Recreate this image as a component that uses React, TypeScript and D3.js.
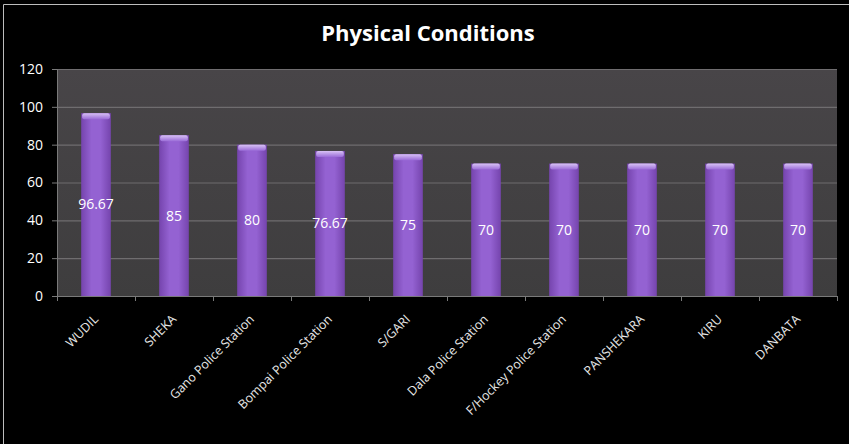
import { useEffect, useRef } from 'react';
import * as d3 from 'd3';

const stations = [
  'WUDIL',
  'SHEKA',
  'Gano Police Station',
  'Bompai Police Station',
  'S/GARI',
  'Dala Police Station',
  'F/Hockey Police Station',
  'PANSHEKARA',
  'KIRU',
  'DANBATA',
];
const scores = [96.67, 85, 80, 76.67, 75, 70, 70, 70, 70, 70];
const yTicks = [0, 20, 40, 60, 80, 100, 120];

const App = () => {
  const svgRef = useRef<SVGSVGElement>(null);

  useEffect(() => {
    document.body.style.margin = '0';
    if (!svgRef.current) {
      return;
    }

    const width = 849;
    const height = 444;
    const margin = { top: 69, right: 12, bottom: 148, left: 57 };
    const font = 'Open Sans, Lato, sans-serif';

    const svg = d3.select(svgRef.current);
    svg.selectAll('*').remove();
    svg.attr('width', width).attr('height', height);

    const defs = svg.append('defs');
    const barGrad = defs
      .append('linearGradient')
      .attr('id', 'barGrad')
      .attr('x1', '0%')
      .attr('x2', '100%');
    barGrad.append('stop').attr('offset', '0%').attr('stop-color', '#7544ad');
    barGrad.append('stop').attr('offset', '35%').attr('stop-color', '#9462d2');
    barGrad.append('stop').attr('offset', '65%').attr('stop-color', '#9462d2');
    barGrad.append('stop').attr('offset', '100%').attr('stop-color', '#7544ad');

    const capGrad = defs
      .append('linearGradient')
      .attr('id', 'capGrad')
      .attr('x1', '0%')
      .attr('x2', '0%')
      .attr('y1', '0%')
      .attr('y2', '100%');
    capGrad.append('stop').attr('offset', '0%').attr('stop-color', '#d8c2f5');
    capGrad.append('stop').attr('offset', '100%').attr('stop-color', '#9b6dd8');

    const plotGrad = defs
      .append('linearGradient')
      .attr('id', 'plotGrad')
      .attr('x1', '0%')
      .attr('x2', '0%')
      .attr('y1', '0%')
      .attr('y2', '100%');
    plotGrad.append('stop').attr('offset', '0%').attr('stop-color', '#484548');
    plotGrad.append('stop').attr('offset', '100%').attr('stop-color', '#3e3d3e');

    // background + frame
    svg.append('rect').attr('width', width).attr('height', height).attr('fill', '#000');
    svg
      .append('path')
      .attr('d', `M3.5,${height} V4.5 H${width}`)
      .attr('stroke', '#bdbdbd')
      .attr('fill', 'none');

    svg
      .append('text')
      .attr('x', 428)
      .attr('y', 41)
      .attr('text-anchor', 'middle')
      .attr('fill', '#fff')
      .attr('font-family', font)
      .attr('font-weight', 'bold')
      .attr('font-size', 22)
      .text('Physical Conditions');

    const x = d3
      .scaleBand<string>()
      .domain(stations)
      .range([margin.left, width - margin.right])
      .paddingInner(0.62)
      .paddingOuter(0.31);

    const y = d3
      .scaleLinear()
      .domain([0, 120])
      .range([height - margin.bottom, margin.top]);

    svg
      .append('rect')
      .attr('x', margin.left)
      .attr('y', y(120))
      .attr('width', width - margin.right - margin.left)
      .attr('height', y(0) - y(120))
      .attr('fill', 'url(#plotGrad)');

    svg
      .append('g')
      .selectAll('line')
      .data(yTicks.filter((t) => t > 0))
      .join('line')
      .attr('x1', margin.left)
      .attr('x2', width - margin.right)
      .attr('y1', (d) => y(d) + 0.5)
      .attr('y2', (d) => y(d) + 0.5)
      .attr('stroke', '#6f6d6f')
      .attr('stroke-width', 1.2);

    const yAxis = svg
      .append('g')
      .attr('transform', `translate(${margin.left},0)`)
      .call(d3.axisLeft(y).tickValues(yTicks).tickSize(5).tickPadding(9));
    yAxis.select('.domain').attr('stroke', '#7a7a7a');
    yAxis.selectAll('line').attr('stroke', '#7a7a7a');
    yAxis
      .selectAll('text')
      .attr('fill', '#fff')
      .attr('font-family', font)
      .attr('font-size', 14);

    const bars = svg
      .append('g')
      .selectAll('g')
      .data(stations)
      .join('g');

    bars
      .append('rect')
      .attr('x', (d) => x(d)!)
      .attr('y', (_d, i) => y(scores[i]))
      .attr('width', x.bandwidth())
      .attr('height', (_d, i) => y(0) - y(scores[i]))
      .attr('fill', 'url(#barGrad)');

    bars
      .append('rect')
      .attr('x', (d) => x(d)! + 1)
      .attr('y', (_d, i) => y(scores[i]))
      .attr('width', x.bandwidth() - 2)
      .attr('height', 6)
      .attr('rx', 2)
      .attr('fill', 'url(#capGrad)');

    bars
      .append('text')
      .attr('x', (d) => x(d)! + x.bandwidth() / 2)
      .attr('y', (_d, i) => y(scores[i] / 2))
      .attr('dy', '0.35em')
      .attr('text-anchor', 'middle')
      .attr('fill', '#fff')
      .attr('font-family', font)
      .attr('font-size', 14)
      .text((_d, i) => String(scores[i]));

    // x axis
    const step = x.step();
    const xAxis = svg.append('g');
    xAxis
      .append('line')
      .attr('x1', margin.left)
      .attr('x2', width - margin.right)
      .attr('y1', y(0) + 0.5)
      .attr('y2', y(0) + 0.5)
      .attr('stroke', '#7a7a7a');
    xAxis
      .selectAll('line.tick')
      .data(d3.range(stations.length + 1))
      .join('line')
      .attr('class', 'tick')
      .attr('x1', (i) => margin.left + i * step + 0.5)
      .attr('x2', (i) => margin.left + i * step + 0.5)
      .attr('y1', y(0))
      .attr('y2', y(0) + 5)
      .attr('stroke', '#7a7a7a');

    xAxis
      .selectAll('text')
      .data(stations)
      .join('text')
      .attr('transform', (d) => `translate(${x(d)! + x.bandwidth() / 2 + 3},${y(0) + 24}) rotate(-45)`)
      .attr('text-anchor', 'end')
      .attr('fill', '#e8e8e8')
      .attr('font-family', font)
      .attr('font-size', 12.5)
      .text((d) => d);
  }, []);

  return <svg ref={svgRef} style={{ display: 'block' }} />;
};

export default App;
